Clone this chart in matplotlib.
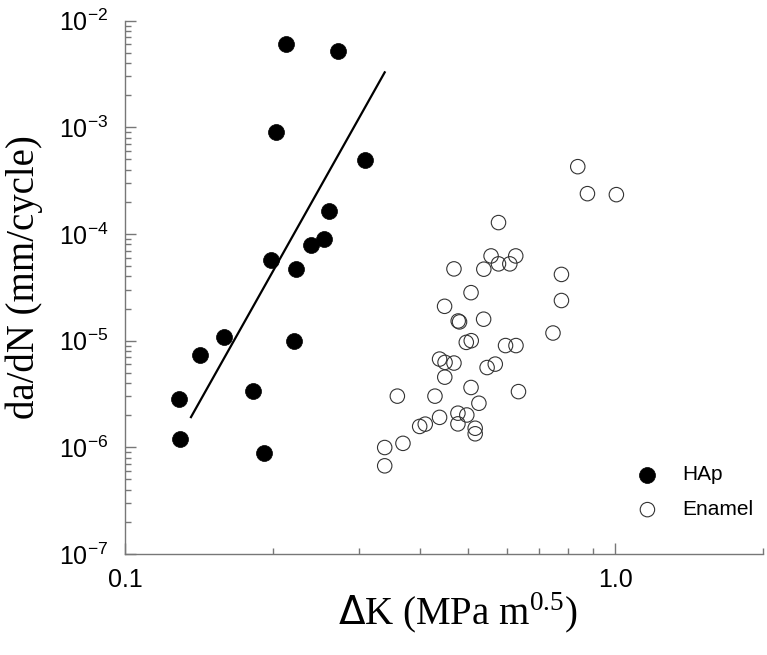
"""
Fatigue crack growth rate vs stress intensity range, HAp and enamel.
"""

import numpy as np
import matplotlib
matplotlib.use('Agg')
import matplotlib.pyplot as plt
from matplotlib.ticker import LogLocator, NullFormatter

plt.rcParams['font.family'] = ['Liberation Sans', 'DejaVu Sans']
plt.rcParams['axes.unicode_minus'] = False

# HAp (filled circles)
hap_dk = [0.2125, 0.2715, 0.2034, 0.3092, 0.2607, 0.2551, 0.2392, 0.1984,
          0.2230, 0.1589, 0.2206, 0.1424, 0.1288, 0.1826, 0.1294, 0.1922]
hap_rate = [6.05e-3, 5.24e-3, 9.12e-4, 4.95e-4, 1.65e-4, 8.93e-5, 7.96e-5,
            5.68e-5, 4.68e-5, 1.09e-5, 9.89e-6, 7.36e-6, 2.85e-6, 3.40e-6,
            1.19e-6, 8.93e-7]

# power-law fit line for HAp (end points)
fit_dk = [0.1363, 0.3385]
fit_rate = [1.92e-6, 3.28e-3]

# Enamel (open circles)
enamel_dk = [0.5776, 0.5578, 0.6263, 0.5776, 0.6091, 0.4686, 0.5391, 0.7762,
             0.5077, 0.7762, 0.4484, 0.4780, 0.4810, 0.5386, 0.7460, 0.4965,
             0.5082, 0.5970, 0.6270, 0.4380, 0.4494, 0.4686, 0.5475, 0.5689,
             0.4488, 0.5077, 0.3592, 0.4286, 0.6344, 0.5268, 0.4380, 0.4774,
             0.4977, 0.4774, 0.3989, 0.4095, 0.5177, 0.5177, 0.3688, 0.3385,
             0.3385, 0.8380, 0.8770, 1.0046]
enamel_rate = [1.28e-4, 6.23e-5, 6.23e-5, 5.25e-5, 5.25e-5, 4.71e-5, 4.68e-5,
               4.18e-5, 2.82e-5, 2.38e-5, 2.10e-5, 1.53e-5, 1.50e-5, 1.59e-5,
               1.18e-5, 9.64e-6, 1.00e-5, 9.00e-6, 9.00e-6, 6.72e-6, 6.26e-6,
               6.17e-6, 5.60e-6, 6.03e-6, 4.55e-6, 3.64e-6, 3.02e-6, 3.02e-6,
               3.33e-6, 2.59e-6, 1.91e-6, 2.09e-6, 2.01e-6, 1.66e-6, 1.57e-6,
               1.65e-6, 1.51e-6, 1.34e-6, 1.09e-6, 9.96e-7, 6.71e-7, 4.28e-4,
               2.39e-4, 2.34e-4]

fig = plt.figure(figsize=(7.67, 6.55), dpi=100)
ax = fig.add_axes([0.163, 0.1542, 0.8318, 0.8142])

ax.scatter(hap_dk, hap_rate, s=132, c='black', edgecolors='black',
           linewidths=0.5, label='HAp', zorder=3)
ax.scatter(enamel_dk, enamel_rate, s=108, facecolors='none',
           edgecolors='#333333', linewidths=0.8, label='Enamel', zorder=3)
ax.plot(fit_dk, fit_rate, color='black', lw=1.6, zorder=2)

ax.set_xscale('log')
ax.set_yscale('log')
ax.set_xlim(0.1, 2.0)
ax.set_ylim(1e-7, 1e-2)

# axes: only left and bottom, gray, ticks pointing in
for side in ['top', 'right']:
    ax.spines[side].set_visible(False)
for side in ['left', 'bottom']:
    ax.spines[side].set_color('#777777')
    ax.spines[side].set_linewidth(1.0)

ax.set_xticks([0.1, 1.0])
ax.set_xticklabels(['0.1', '1.0'])
ax.xaxis.set_minor_locator(LogLocator(base=10, subs=np.arange(2, 10),
                                      numticks=100))
ax.xaxis.set_minor_formatter(NullFormatter())
ax.yaxis.set_major_locator(LogLocator(base=10, numticks=100))
ax.yaxis.set_minor_locator(LogLocator(base=10, subs=np.arange(2, 10),
                                      numticks=100))
ax.yaxis.set_minor_formatter(NullFormatter())

ax.tick_params(which='both', direction='in', color='#777777', width=1.0,
               labelsize=18)
ax.tick_params(which='major', length=8)
ax.tick_params(which='minor', length=4.5)
ax.tick_params(axis='x', which='both', pad=10)
ax.tick_params(axis='y', which='both', pad=12)

ax.set_xlabel(r'$\Delta$K (MPa m$^{\mathdefault{0.5}}$)', fontsize=28,
              family='Liberation Serif')
ax.set_ylabel('da/dN (mm/cycle)', fontsize=28, family='Liberation Serif')
ax.xaxis.set_label_coords(0.522, -0.069)
ax.yaxis.set_label_coords(-0.128, 0.52)

ax.legend(loc='upper left', bbox_to_anchor=(0.8025, 0.166), frameon=False,
          fontsize=15, scatterpoints=1, handlelength=1.0,
          handletextpad=1.15, labelspacing=0.75, borderpad=0,
          borderaxespad=0)

fig.savefig('out.png', dpi=100)
